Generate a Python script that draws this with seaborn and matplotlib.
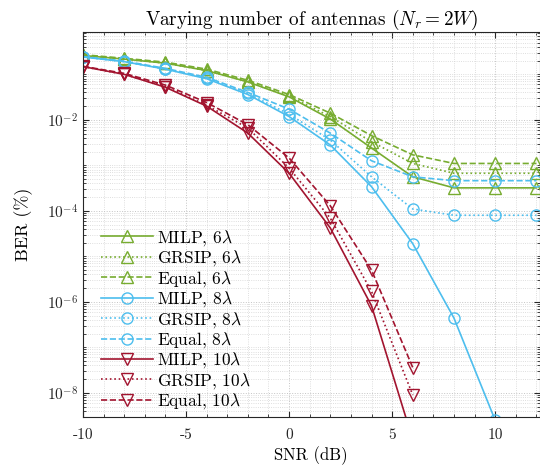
import numpy as np
import seaborn as sns
import matplotlib
matplotlib.use("Agg")
import matplotlib.pyplot as plt
from matplotlib.ticker import FixedLocator, NullFormatter

nan = np.nan
snr = [-10, -8, -6, -4, -2, 0, 2, 4, 6, 8, 10, 12]

milp_6 = [0.26, 0.216, 0.176, 0.121, 0.068, 0.032, 0.0104, 2.4e-3, 5.6e-4, 3.2e-4, 3.2e-4, 3.2e-4]
grsip_6 = [0.26, 0.216, 0.176, 0.121, 0.069, 0.033, 0.0118, 3.3e-3, 1.1e-3, 6.7e-4, 6.7e-4, 6.7e-4]
equal_6 = [0.27, 0.225, 0.185, 0.13, 0.074, 0.036, 0.014, 4.5e-3, 1.7e-3, 1.1e-3, 1.1e-3, 1.1e-3]

milp_8 = [0.24, 0.19, 0.13, 0.08, 0.036, 0.0118, 2.8e-3, 3.4e-4, 1.9e-5, 4.4e-7, 2.5e-9, nan]
grsip_8 = [0.24, 0.19, 0.13, 0.082, 0.038, 0.0133, 3.6e-3, 5.6e-4, 1.1e-4, 8e-5, 8e-5, 8e-5]
equal_8 = [0.245, 0.195, 0.135, 0.086, 0.04, 0.0172, 5.1e-3, 1.26e-3, 5.6e-4, 4.6e-4, 4.6e-4, 4.6e-4]

milp_10 = [0.148, 0.10, 0.052, 0.020, 5.1e-3, 6.7e-4, 4.2e-5, 8.2e-7, 9.3e-10, nan, nan, nan]
grsip_10 = [0.148, 0.10, 0.054, 0.021, 6.6e-3, 8.7e-4, 6.9e-5, 1.7e-6, 9e-9, nan, nan, nan]
equal_10 = [0.15, 0.105, 0.058, 0.024, 7.8e-3, 1.45e-3, 1.29e-4, 5e-6, 3.6e-8, nan, nan, nan]

green = '#77AC30'
blue = '#4DBEEE'
red = '#A2142F'

series = [
    ('MILP, $6\\lambda$', milp_6, green, '-', '^'),
    ('GRSIP, $6\\lambda$', grsip_6, green, ':', '^'),
    ('Equal, $6\\lambda$', equal_6, green, '--', '^'),
    ('MILP, $8\\lambda$', milp_8, blue, '-', 'o'),
    ('GRSIP, $8\\lambda$', grsip_8, blue, ':', 'o'),
    ('Equal, $8\\lambda$', equal_8, blue, '--', 'o'),
    ('MILP, $10\\lambda$', milp_10, red, '-', 'v'),
    ('GRSIP, $10\\lambda$', grsip_10, red, ':', 'v'),
    ('Equal, $10\\lambda$', equal_10, red, '--', 'v'),
]

plt.rcParams['font.family'] = ['cmr10', 'DejaVu Serif']
plt.rcParams['mathtext.fontset'] = 'cm'
plt.rcParams['axes.unicode_minus'] = False
plt.rcParams['axes.formatter.use_mathtext'] = True

fig = plt.figure(figsize=(5.4, 4.7), dpi=100)
ax = fig.add_axes([83/540, 1 - 417/470, 456.5/540, (417 - 32)/470])

for label, vals, col, ls, mk in series:
    sns.lineplot(x=snr, y=vals, ax=ax, color=col, linestyle=ls, marker=mk,
                 markersize=8, markerfacecolor='none', markeredgecolor=col,
                 markeredgewidth=1.0, linewidth=1.2, label=label)

ax.set_yscale('log')
ax.set_xlim(-10, 12.15)
ax.set_ylim(10**-8.53, 10**-0.07)

ax.xaxis.set_major_locator(FixedLocator([-10, -5, 0, 5, 10]))
ax.set_xticklabels(['-10', '-5', '0', '5', '10'])
ax.xaxis.set_minor_locator(FixedLocator([v for v in range(-10, 13) if v % 5 != 0]))

ymaj = [1e-8, 1e-6, 1e-4, 1e-2]
ax.yaxis.set_major_locator(FixedLocator(ymaj))
ax.set_yticklabels(['$10^{-8}$', '$10^{-6}$', '$10^{-4}$', '$10^{-2}$'])
ymin = [m * 10.0**e for e in range(-10, 1) for m in range(1, 10)]
ymin = [v for v in ymin if v not in ymaj]
ax.yaxis.set_minor_locator(FixedLocator(ymin))
ax.yaxis.set_minor_formatter(NullFormatter())

ax.tick_params(which='both', direction='in', top=True, right=True, colors='#262626', labelsize=11)
ax.tick_params(axis='x', which='major', pad=8)
ax.tick_params(which='major', length=4)
ax.tick_params(which='minor', length=2)
ax.grid(which='major', linestyle=':', color='#c4c4c4', linewidth=0.7)
ax.grid(which='minor', linestyle=':', color='#d4d4d4', linewidth=0.6)
for sp in ax.spines.values():
    sp.set_color('#262626')
    sp.set_linewidth(0.8)

ax.set_title('Varying number of antennas ($N_r = 2W$)', fontsize=13.8, pad=5)
ax.set_xlabel('SNR (dB)', fontsize=12, labelpad=3)
ax.set_ylabel('BER (%)', fontsize=13, labelpad=10)

ax.legend(loc='upper left', bbox_to_anchor=(101/540, 1 - 228/470), bbox_transform=fig.transFigure,
          frameon=False, fontsize=12.5, handlelength=3.0, handletextpad=0.25, labelspacing=0.03,
          borderaxespad=0, borderpad=0)

fig.savefig('out.png', dpi=100)
